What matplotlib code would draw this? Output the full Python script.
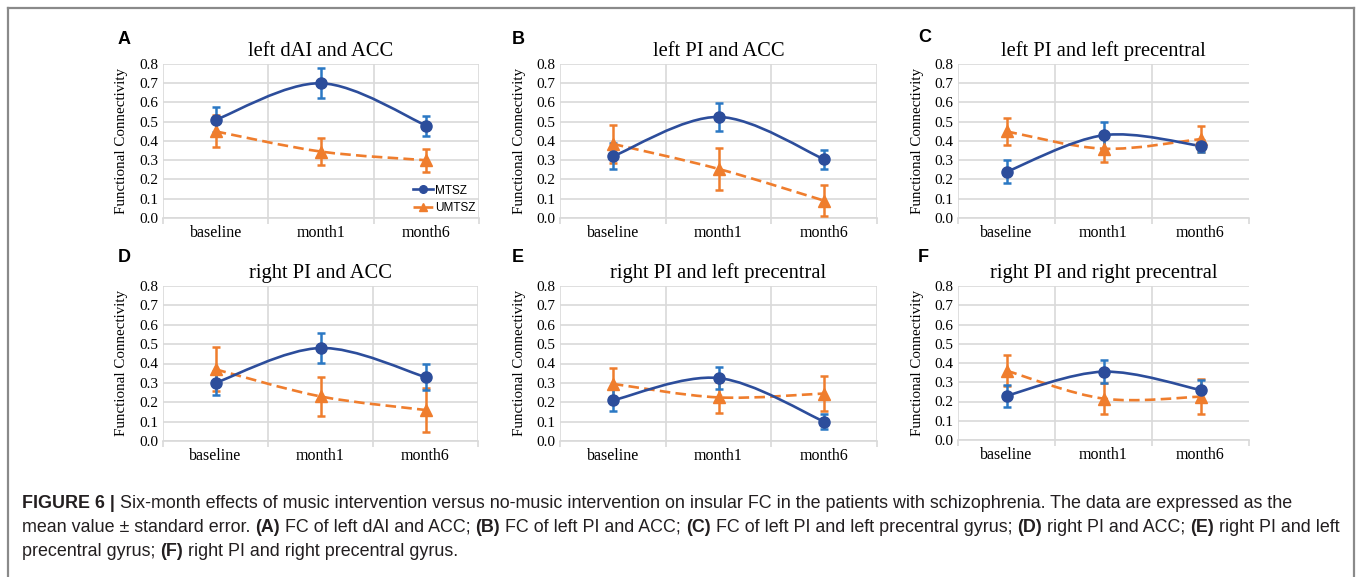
import matplotlib
matplotlib.use('Agg')
import numpy as np
import matplotlib.pyplot as plt
from matplotlib.path import Path
from matplotlib.patches import PathPatch
from matplotlib.lines import Line2D

groups = ['baseline', 'month1', 'month6']
letters = ['A', 'B', 'C', 'D', 'E', 'F']
titles = ['left dAI and ACC', 'left PI and ACC', 'left PI and left precentral',
          'right PI and ACC', 'right PI and left precentral', 'right PI and right precentral']

# mean FC per panel (A..F), one row per panel
mtsz_mean = [[0.51, 0.70, 0.48],
             [0.32, 0.525, 0.305],
             [0.24, 0.43, 0.375],
             [0.30, 0.48, 0.33],
             [0.21, 0.325, 0.10],
             [0.23, 0.355, 0.26]]
mtsz_se = [[0.065, 0.077, 0.052],
           [0.068, 0.072, 0.05],
           [0.06, 0.07, 0.03],
           [0.06, 0.079, 0.065],
           [0.057, 0.058, 0.04],
           [0.058, 0.06, 0.05]]
umtsz_mean = [[0.45, 0.345, 0.30],
              [0.385, 0.255, 0.09],
              [0.45, 0.36, 0.41],
              [0.37, 0.23, 0.16],
              [0.295, 0.225, 0.245],
              [0.36, 0.215, 0.225]]
umtsz_se = [[0.083, 0.07, 0.06],
            [0.10, 0.11, 0.08],
            [0.07, 0.07, 0.068],
            [0.113, 0.10, 0.115],
            [0.083, 0.078, 0.09],
            [0.08, 0.08, 0.09]]

BLUE = '#2c4d9b'
BLUE_ERR = '#2a78c4'
ORANGE = '#ef7d2d'
GRID = '#d9d9d9'
SERIF = 'Liberation Serif'
SANS = 'Liberation Sans'

W, H = 1358, 577
fig = plt.figure(figsize=(W / 100, H / 100), dpi=100)

# panel boxes in pixels: left, right, top, bottom
boxes = [(163, 479, 64, 218), (560, 877, 64, 218), (958, 1249, 64, 218),
         (163, 478, 286, 441), (560, 877, 286, 441), (958, 1249, 286, 440)]
xmax = [3, 3, 2.77, 3, 3, 2.77]
letter_xy = [(118, 40), (512, 40), (918, 38), (118, 258), (512, 257), (918, 257)]
ylab_x = [122, 520, 917, 122, 520, 917]


def smooth_path(x, y):
    # Excel-style smoothed line (Catmull-Rom as cubic Bezier)
    pts = list(zip(x, y))
    ext = [pts[0]] + pts + [pts[-1]]
    verts = [pts[0]]
    codes = [Path.MOVETO]
    for i in range(1, len(ext) - 2):
        p0, p1, p2, p3 = map(np.array, ext[i - 1:i + 3])
        c1 = p1 + (p2 - p0) / 6.0
        c2 = p2 - (p3 - p1) / 6.0
        verts += [tuple(c1), tuple(c2), tuple(p2)]
        codes += [Path.CURVE4] * 3
    return Path(verts, codes)


xpos = np.arange(len(groups)) + 0.5

for k in range(6):
    l, r, t, b = boxes[k]
    ax = fig.add_axes([l / W, 1 - b / H, (r - l) / W, (b - t) / H])
    ax.set_xlim(0, xmax[k])
    ax.set_ylim(0, 0.8)
    for s in ['top', 'right', 'left']:
        ax.spines[s].set_visible(False)
    ax.spines['bottom'].set_color(GRID)
    ax.spines['bottom'].set_linewidth(1.2)
    ax.set_yticks(np.arange(0, 0.81, 0.1))
    ax.set_yticklabels(['%.1f' % v for v in np.arange(0, 0.81, 0.1)],
                       fontsize=11, fontfamily=SERIF)
    ax.set_xticks(xpos)
    ax.set_xticklabels(groups, fontsize=11.5, fontfamily=SERIF)
    ax.set_xticks(np.arange(0, 4), minor=True)
    ax.tick_params(axis='y', length=0, pad=3)
    ax.tick_params(axis='x', which='major', length=0, pad=5)
    ax.tick_params(axis='x', which='minor', length=4, color=GRID, width=1.2)
    ax.yaxis.grid(True, color=GRID, lw=1.2)
    for v in range(0, 4):
        if v <= xmax[k]:
            ax.axvline(v, color=GRID, lw=1.2, zorder=0)
    ax.set_axisbelow(True)

    ax.errorbar(xpos, umtsz_mean[k], yerr=umtsz_se[k], fmt='none', ecolor=ORANGE,
                elinewidth=1.8, capsize=3, capthick=1.8, zorder=3)
    ax.errorbar(xpos, mtsz_mean[k], yerr=mtsz_se[k], fmt='none', ecolor=BLUE_ERR,
                elinewidth=1.8, capsize=3, capthick=1.8, zorder=3)
    ax.add_patch(PathPatch(smooth_path(xpos, umtsz_mean[k]), fill=False, edgecolor=ORANGE,
                           lw=1.9, linestyle=(0, (4, 2)), zorder=4))
    ax.add_patch(PathPatch(smooth_path(xpos, mtsz_mean[k]), fill=False, edgecolor=BLUE,
                           lw=1.9, zorder=4))
    ax.plot(xpos, umtsz_mean[k], ls='none', marker='^', ms=8, color=ORANGE, zorder=5)
    ax.plot(xpos, mtsz_mean[k], ls='none', marker='o', ms=8, color=BLUE, zorder=6)

    ax.set_title(titles[k], fontsize=14.8, fontfamily=SERIF, pad=6)
    fig.text(ylab_x[k] / W, 1 - ((t + b) / 2) / H, 'Functional Connectivity',
             rotation=90, ha='center', va='center', fontsize=10.8, fontfamily=SERIF)
    fig.text(letter_xy[k][0] / W, 1 - letter_xy[k][1] / H, letters[k], ha='left',
             va='center', fontsize=13, fontweight='bold', fontfamily=SANS)

    if k == 0:
        handles = [Line2D([], [], color=BLUE, lw=1.9, marker='o', ms=5.5),
                   Line2D([], [], color=ORANGE, lw=1.9, ls=(0, (3, 1.5)), marker='^', ms=5.5)]
        ax.legend(handles, ['MTSZ', 'UMTSZ'], loc='lower right', frameon=False,
                  prop={'family': SANS, 'size': 8.5}, handlelength=1.7,
                  handletextpad=0.15, labelspacing=0.5, borderaxespad=0.1,
                  borderpad=0.2)

# frame around figure + caption
frame = dict(color='#8a8a8a', lw=1.6, transform=fig.transFigure, clip_on=False)
fig.add_artist(Line2D([8 / W, 8 / W], [1 - 8 / H, 0], **frame))
fig.add_artist(Line2D([8 / W, 1354 / W], [1 - 8 / H, 1 - 8 / H], **frame))
fig.add_artist(Line2D([1354 / W, 1354 / W], [1 - 8 / H, 0], **frame))

caption = [
    [('FIGURE 6 |', True), (' Six-month effects of music intervention versus no-music intervention on insular FC in the patients with schizophrenia. The data are expressed as the', False)],
    [('mean value \u00b1 standard error. ', False), ('(A)', True), (' FC of left dAI and ACC; ', False),
     ('(B)', True), (' FC of left PI and ACC; ', False), ('(C)', True),
     (' FC of left PI and left precentral gyrus; ', False), ('(D)', True),
     (' right PI and ACC; ', False), ('(E)', True), (' right PI and left', False)],
    [('precentral gyrus; ', False), ('(F)', True), (' right PI and right precentral gyrus.', False)],
]
cap_y = [508, 532, 556]
renderer = fig.canvas.get_renderer()
for line, yb in zip(caption, cap_y):
    x = 22 / W
    for txt, bold in line:
        tt = fig.text(x, 1 - yb / H, txt, fontsize=12.9, fontfamily=SANS,
                      fontweight='bold' if bold else 'normal', color='#231f20',
                      ha='left', va='baseline')
        x += tt.get_window_extent(renderer).width / W

fig.savefig('out.png', dpi=100)
